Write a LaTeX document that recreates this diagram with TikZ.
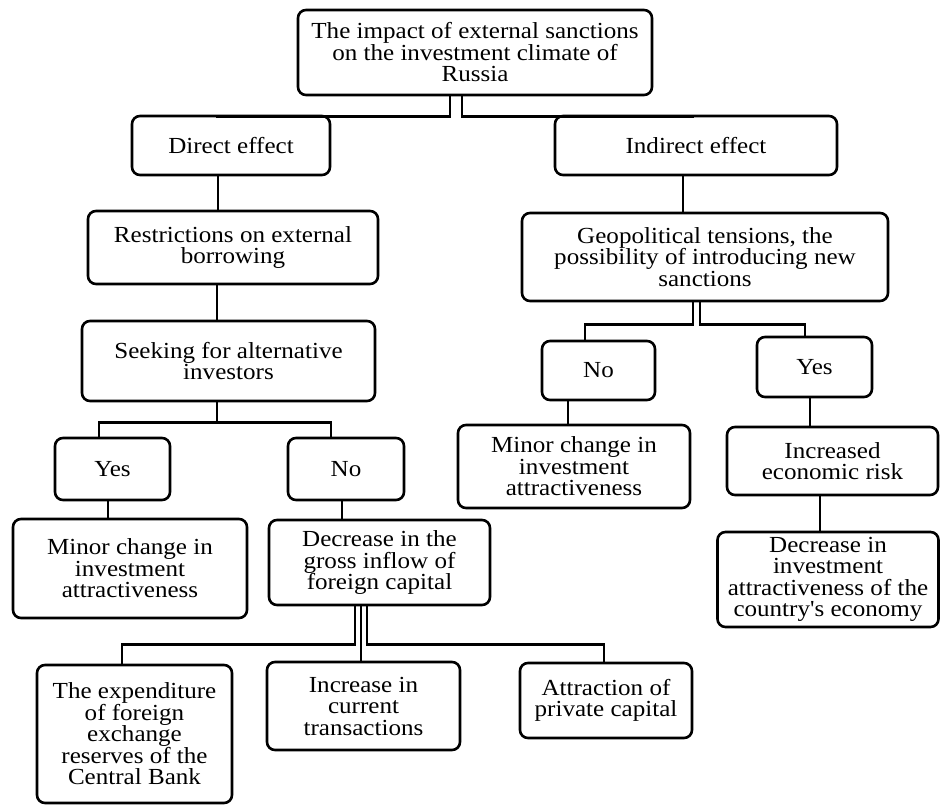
\documentclass[tikz,border=0pt]{standalone}
\usepackage{fontspec}
\setmainfont{Liberation Serif}[FakeStretch=1.09, Ligatures=TeXOff]
\begin{document}
\begin{tikzpicture}[x=1pt,y=-1pt,
  box/.style={draw=black, line width=2.6pt, rounded corners=8pt, fill=white,
    inner sep=0pt, align=center, font=\fontsize{23}{21.5}\selectfont},
  link/.style={draw=black, line width=2.8pt}]
\useasboundingbox[fill=white] (0,0) rectangle (940,805);
% boxes
\node[box, minimum width=354pt, minimum height=85pt] (top) at (475,52.5) {The impact of external sanctions\\on the investment climate of\\Russia};
\node[box, minimum width=198pt, minimum height=59pt] (direct) at (231,145.5) {Direct effect};
\node[box, minimum width=282pt, minimum height=59pt] (indirect) at (696,145.5) {Indirect effect};
\node[box, minimum width=290pt, minimum height=73pt] (restr) at (233,247.5) {Restrictions on external\\borrowing};
\node[box, minimum width=366pt, minimum height=88pt] (geo) at (705,257) {Geopolitical tensions, the\\possibility of introducing new\\sanctions};
\node[box, minimum width=293pt, minimum height=80pt] (seek) at (228.5,361) {Seeking for alternative\\investors};
\node[box, minimum width=115pt, minimum height=62pt] (yesL) at (112.5,469) {Yes};
\node[box, minimum width=116pt, minimum height=62pt] (noL) at (346,469) {No};
\node[box, minimum width=234pt, minimum height=99pt] (minorL) at (130,568.5) {Minor change in\\investment\\attractiveness};
\node[box, minimum width=221pt, minimum height=85pt] (decCap) at (379.5,562.5) {Decrease in the\\gross inflow of\\foreign capital};
\node[box, minimum width=113pt, minimum height=59pt] (noR) at (598.5,370.5) {No};
\node[box, minimum width=115pt, minimum height=60pt] (yesR) at (814.5,367) {Yes};
\node[box, minimum width=232pt, minimum height=83pt] (minorR) at (574,466.5) {Minor change in\\investment\\attractiveness};
\node[box, minimum width=211pt, minimum height=68pt] (incRisk) at (832.5,461) {Increased\\economic risk};
\node[box, minimum width=221pt, minimum height=95pt] (decInv) at (828,579.5) {Decrease in\\investment\\attractiveness of the\\country's economy};
\node[box, minimum width=195pt, minimum height=138pt] (expend) at (134.5,734) {The expenditure\\of foreign\\exchange\\reserves of the\\Central Bank};
\node[box, minimum width=193pt, minimum height=88pt] (incCur) at (363.5,706) {Increase in\\current\\transactions};
\node[box, minimum width=172pt, minimum height=75pt] (attr) at (606,700.5) {Attraction of\\private capital};
% connectors
\draw[link] (top.south -| 450,0) -- ++(0,20) -| (direct.north -| 217,0);
\draw[link] (top.south -| 462,0) -- ++(0,20) -| (indirect.north -| 693,0);
\draw[link] (direct.south -| 218,0) -- (restr.north -| 218,0);
\draw[link] (restr.south -| 217,0) -- (seek.north -| 217,0);
\draw[link] (seek.south -| 217,0) -- ++(0,20) coordinate (s1);
\draw[link] (s1) -| (yesL.north -| 99,0);
\draw[link] (s1) -| (noL.north -| 331,0);
\draw[link] (yesL.south -| 108,0) -- (minorL.north -| 108,0);
\draw[link] (noL.south -| 342,0) -- (decCap.north -| 342,0);
\draw[link] (indirect.south -| 683,0) -- (geo.north -| 683,0);
\draw[link] (geo.south -| 693,0) -- ++(0,22) -| (noR.north -| 585,0);
\draw[link] (geo.south -| 700,0) -- ++(0,22) -| (yesR.north -| 805,0);
\draw[link] (noR.south -| 568,0) -- (minorR.north -| 568,0);
\draw[link] (yesR.south -| 810,0) -- (incRisk.north -| 810,0);
\draw[link] (incRisk.south -| 820,0) -- (decInv.north -| 820,0);
\draw[link] (decCap.south -| 355,0) -- ++(0,38) -| (expend.north -| 122,0);
\draw[link] (decCap.south -| 361,0) -- (incCur.north -| 361,0);
\draw[link] (decCap.south -| 367,0) -- ++(0,38) -| (attr.north -| 604,0);
\end{tikzpicture}
\end{document}
